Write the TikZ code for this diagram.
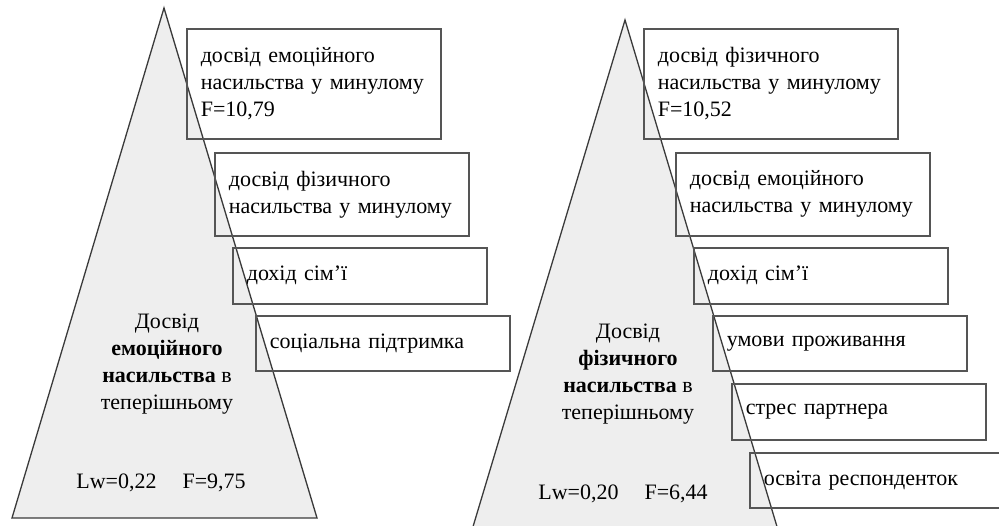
\documentclass[tikz,border=0pt]{standalone}
\usepackage{xcolor}
\usepackage{fontspec}
\setmainfont{Liberation Serif}
\usepackage{tikz}

\definecolor{pyrfill}{HTML}{EEEEEE}
\definecolor{pyrline}{HTML}{3A3A3A}
\definecolor{boxline}{HTML}{555555}

\tikzset{
  factor/.style={draw=boxline, line width=1.6pt, rectangle, anchor=north west,
    minimum width=254pt, inner xsep=14pt, inner ysep=2pt, text width=226pt,
    align=left, font=\fontsize{22}{27}\selectfont},
  core/.style={align=center, font=\fontsize{22}{27}\selectfont},
}

\begin{document}
\begin{tikzpicture}[x=1pt, y=-1pt, line width=1.3pt]
    \useasboundingbox (0,0) rectangle (999,526);

    % pyramids
    \filldraw[fill=pyrfill, draw=pyrline] (164,8) -- (317,518) -- (12,518) -- cycle;
    \filldraw[fill=pyrfill, draw=pyrline] (625,20) -- (781,540) -- (469,540) -- cycle;

    \node[core] (lcore) at (167,364) {Досвід\\ \textbf{емоційного}\\ \textbf{насильства} в\\ теперішньому};
    \node[core] (lstat) at (161,483) {Lw=0,22\hspace{26pt}F=9,75};

    \node[core] (rcore) at (628,374) {Досвід\\ \textbf{фізичного}\\ \textbf{насильства} в\\ теперішньому};
    \node[core] (rstat) at (623,494) {Lw=0,20\hspace{26pt}F=6,44};

    % left factors
    \node[factor, minimum height=110pt] (l1) at (186,28) {досвід емоційного\\ насильства у минулому\\ F=10,79};
    \node[factor, minimum height=83pt] (l2) at (214,152) {досвід фізичного\\ насильства у минулому};
    \node[factor, minimum height=56pt] (l3) at (232,247) {дохід сім’ї};
    \node[factor, minimum height=55pt] (l4) at (255,315) {соціальна підтримка};

    % right factors
    \node[factor, minimum height=110pt] (r1) at (643,28) {досвід фізичного\\ насильства у минулому\\ F=10,52};
    \node[factor, minimum height=83pt] (r2) at (675,152) {досвід емоційного\\ насильства у минулому};
    \node[factor, minimum height=56pt] (r3) at (693,247) {дохід сім'ї};
    \node[factor, minimum height=55pt] (r4) at (712,315) {умови проживання};
    \node[factor, minimum height=56pt] (r5) at (731,383) {стрес партнера};
    \node[factor, minimum height=55pt] (r6) at (749,452) {освіта респонденток};
\end{tikzpicture}
\end{document}
